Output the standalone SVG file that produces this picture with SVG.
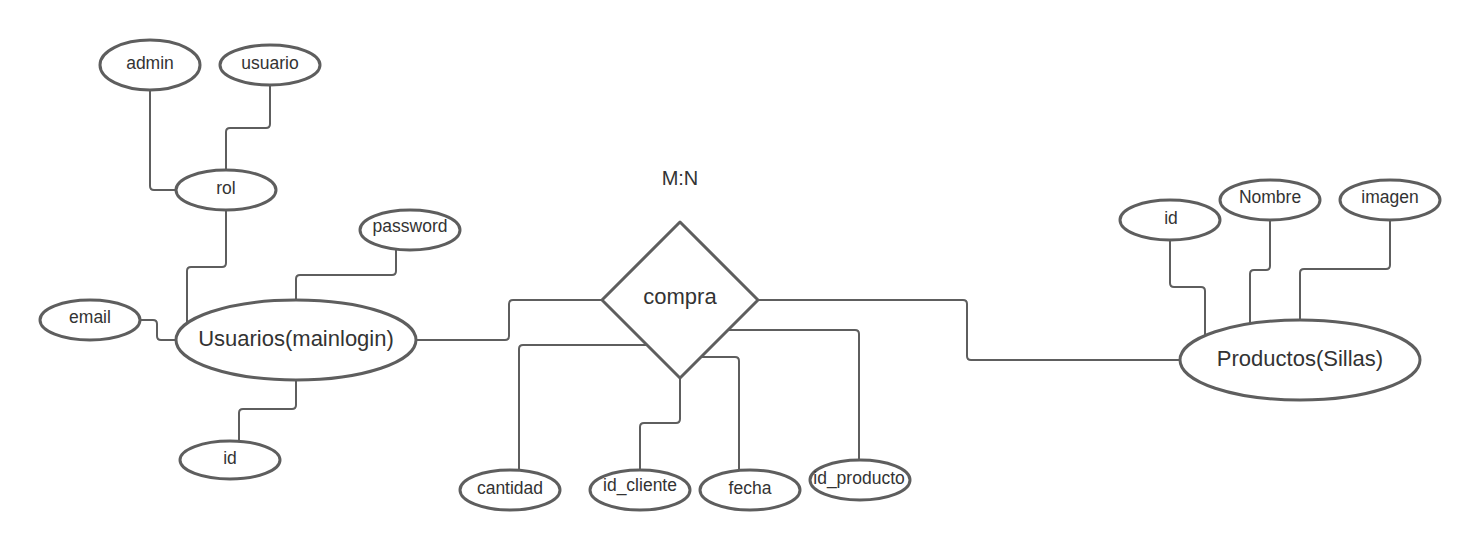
<svg xmlns="http://www.w3.org/2000/svg" width="1480" height="550" viewBox="0 0 1480 550">
<style>
.shape{fill:#ffffff;stroke:#5e5e5e;stroke-width:3}
.conn{fill:none;stroke:#5e5e5e;stroke-width:2;stroke-linejoin:round}
text{font-family:"Liberation Sans",Arial,sans-serif;fill:#333333;text-anchor:middle}
.s{font-size:17.5px}
.l{font-size:22px}
.m{font-size:20px}
</style>
<rect x="0" y="0" width="1480" height="550" fill="#ffffff"/>
<g id="connectors">
<path class="conn" d="M150,90 V186 Q150,190 154,190 H176"/>
<path class="conn" d="M270,85 V124 Q270,128 266,128 H230 Q226,128 226,132 V170"/>
<path class="conn" d="M226,210 V263 Q226,267 222,267 H191 Q187,267 187,271 V323"/>
<path class="conn" d="M396,250 V271 Q396,275 392,275 H300 Q296,275 296,279 V300"/>
<path class="conn" d="M140,320 H153 Q157,320 157,324 V336 Q157,340 161,340 H176"/>
<path class="conn" d="M296,380 V405 Q296,409 292,409 H243 Q239,409 239,413 V440"/>
<path class="conn" d="M416,340 H505 Q509,340 509,336 V304 Q509,300 513,300 H602"/>
<path class="conn" d="M758,300 H963 Q967,300 967,304 V356 Q967,360 971,360 H1180"/>
<path class="conn" d="M646,345 H523 Q519,345 519,349 V470"/>
<path class="conn" d="M680,378 V419 Q680,423 676,423 H644 Q640,423 640,427 V470"/>
<path class="conn" d="M701,357 H735 Q739,357 739,361 V470.5"/>
<path class="conn" d="M728,330 H855 Q859,330 859,334 V460"/>
<path class="conn" d="M1170,240 V283 Q1170,287 1174,287 H1201 Q1205,287 1205,291 V336"/>
<path class="conn" d="M1270,220 V266 Q1270,270 1266,270 H1254 Q1250,270 1250,274 V324"/>
<path class="conn" d="M1390,220 V265 Q1390,269 1386,269 H1304 Q1300,269 1300,273 V320"/>
</g>
<g id="admin"><ellipse class="shape" cx="150" cy="65" rx="50" ry="25"/><text class="s" x="150" y="69">admin</text></g>
<g id="usuario"><ellipse class="shape" cx="270" cy="65" rx="50" ry="20"/><text class="s" x="270" y="68.5">usuario</text></g>
<g id="rol"><ellipse class="shape" cx="226" cy="190" rx="50" ry="20"/><text class="s" x="226" y="193.5">rol</text></g>
<g id="password"><ellipse class="shape" cx="410" cy="230" rx="50" ry="20"/><text class="s" x="410" y="232">password</text></g>
<g id="email"><ellipse class="shape" cx="90" cy="320" rx="50" ry="20"/><text class="s" x="90" y="323">email</text></g>
<g id="usuarios"><ellipse class="shape" cx="296" cy="340" rx="120" ry="40"/><text class="l" x="296" y="346">Usuarios(mainlogin)</text></g>
<g id="id_usuario"><ellipse class="shape" cx="230" cy="460" rx="50" ry="19"/><text class="s" x="230" y="463.5">id</text></g>
<g id="mn"><text class="m" x="680" y="185">M:N</text></g>
<g id="compra"><path class="shape" stroke-linejoin="round" d="M680,222 L758,300 L680,378 L602,300 Z"/><text class="l" x="680" y="303.5">compra</text></g>
<g id="cantidad"><ellipse class="shape" cx="510" cy="490" rx="50" ry="20"/><text class="s" x="510" y="493.5">cantidad</text></g>
<g id="id_cliente"><ellipse class="shape" cx="640" cy="490" rx="50" ry="20"/><text class="s" x="640" y="491">id_cliente</text></g>
<g id="fecha"><ellipse class="shape" cx="750" cy="490" rx="50" ry="20"/><text class="s" x="750" y="493.5">fecha</text></g>
<g id="id_producto"><ellipse class="shape" cx="860" cy="480" rx="50" ry="20"/><text class="s" x="859" y="483.5">id_producto</text></g>
<g id="productos"><ellipse class="shape" cx="1300" cy="360" rx="120" ry="40"/><text class="l" x="1300" y="365.5">Productos(Sillas)</text></g>
<g id="id_producto_attr"><ellipse class="shape" cx="1170" cy="220" rx="50" ry="20"/><text class="s" x="1171" y="223.5">id</text></g>
<g id="nombre"><ellipse class="shape" cx="1270" cy="200" rx="50" ry="20"/><text class="s" x="1270" y="203">Nombre</text></g>
<g id="imagen"><ellipse class="shape" cx="1390" cy="200" rx="50" ry="20"/><text class="s" x="1390" y="203">imagen</text></g>
</svg>
